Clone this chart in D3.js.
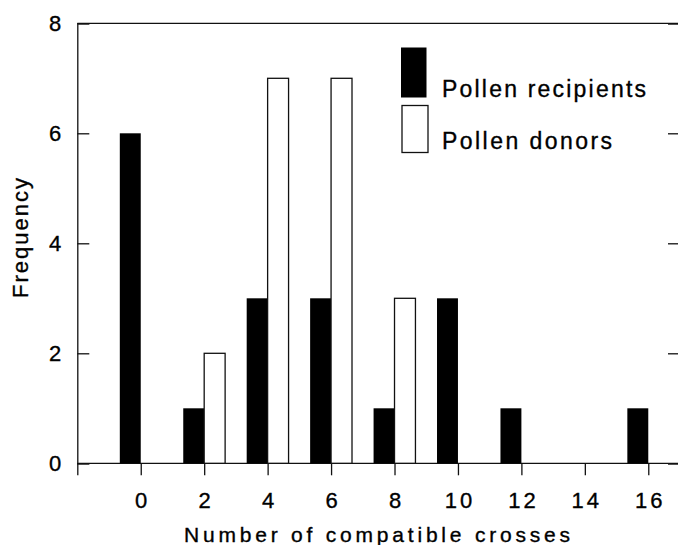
<!DOCTYPE html>
<html>
<head>
<meta charset="utf-8">
<script src="https://cdn.jsdelivr.net/npm/d3@7"></script>
<style>
  html, body { margin: 0; padding: 0; background: #fff; }
  svg { display: block; }
  text { font-family: "Liberation Sans", Arial, sans-serif; fill: #000; stroke: #000; stroke-width: 0.35; }
  .domain, .tick line { stroke: #111; stroke-width: 1.3; }
</style>
</head>
<body>
<div id="chart"></div>
<script>
// number of compatible crosses (bin centres)
var crosses = [0, 2, 4, 6, 8, 10, 12, 14, 16];
var recipients = [6, 1, 3, 3, 1, 3, 1, 0, 1];
var donors = [0, 2, 7, 7, 3, 0, 0, 0, 0];
var xTicks = [0, 2, 4, 6, 8, 10, 12, 14, 16];
var yTicks = [0, 2, 4, 6, 8];
var seriesNames = ["Pollen recipients", "Pollen donors"];

var W = 678, H = 545;
var margin = {top: 23.3, right: -2, bottom: 81.7, left: 77.3};

var svg = d3.select("#chart").append("svg")
    .attr("width", W)
    .attr("height", H);

var x = d3.scaleLinear().domain([-2, 17]).range([margin.left, W - margin.right]);
var y = d3.scaleLinear().domain([0, 8]).range([H - margin.bottom, margin.top]);
var barW = x(0.66) - x(0);

// frame: top line
svg.append("line")
    .attr("x1", x(-2)).attr("x2", x(17))
    .attr("y1", y(8)).attr("y2", y(8))
    .attr("stroke", "#111").attr("stroke-width", 1.3);

// left axis, ticks pointing inward
var yAxis = svg.append("g")
    .attr("transform", "translate(" + x(-2) + ",0)")
    .call(d3.axisLeft(y).tickValues(yTicks).tickSize(-12).tickPadding(16).tickFormat(d3.format("d")));
yAxis.selectAll(".tick text")
    .attr("font-size", 22)
    .attr("font-family", "Liberation Sans, Arial, sans-serif");

// right axis (frame edge), ticks pointing inward
svg.append("g")
    .attr("transform", "translate(" + x(17) + ",0)")
    .call(d3.axisRight(y).tickValues(yTicks).tickSize(-12).tickFormat(""));

// bottom axis; the frame corner gets an unlabelled tick too
var xAxis = svg.append("g")
    .attr("transform", "translate(0," + y(0) + ")")
    .call(d3.axisBottom(x).tickValues([-2].concat(xTicks)).tickSize(12).tickSizeOuter(0)
        .tickFormat(function (d) { return d < 0 ? "" : d3.format("d")(d); }));
xAxis.select(".domain").attr("d", "M" + x(-2) + ",0H" + x(17));
xAxis.selectAll(".tick text")
    .attr("font-size", 22)
    .attr("font-family", "Liberation Sans, Arial, sans-serif")
    .attr("letter-spacing", 3)
    .attr("dx", 1.5)
    .attr("dy", null)
    .attr("y", 45);

// bars
var rows = crosses.map(function (c, i) {
    return {c: c, rec: recipients[i], don: donors[i]};
});

svg.append("g").selectAll("rect.rec")
    .data(rows.filter(function (d) { return d.rec > 0; }))
    .enter().append("rect")
    .attr("class", "rec")
    .attr("x", function (d) { return x(d.c) - barW; })
    .attr("y", function (d) { return y(d.rec); })
    .attr("width", barW)
    .attr("height", function (d) { return y(0) - y(d.rec); })
    .attr("fill", "#000");

svg.append("g").selectAll("rect.don")
    .data(rows.filter(function (d) { return d.don > 0; }))
    .enter().append("rect")
    .attr("class", "don")
    .attr("x", function (d) { return x(d.c); })
    .attr("y", function (d) { return y(d.don); })
    .attr("width", barW)
    .attr("height", function (d) { return y(0) - y(d.don); })
    .attr("fill", "#fff")
    .attr("stroke", "#111")
    .attr("stroke-width", 1.3);

// legend
var legend = svg.append("g");
legend.append("rect")
    .attr("x", 401).attr("y", 47.5).attr("width", 25.5).attr("height", 50)
    .attr("fill", "#000");
legend.append("rect")
    .attr("x", 402).attr("y", 105.5).attr("width", 26).attr("height", 47)
    .attr("fill", "#fff").attr("stroke", "#111").attr("stroke-width", 1.3);
legend.append("text")
    .attr("x", 442).attr("y", 96.5)
    .attr("font-size", 23)
    .attr("textLength", 204).attr("lengthAdjust", "spacing")
    .text(seriesNames[0]);
legend.append("text")
    .attr("x", 442).attr("y", 148.5)
    .attr("font-size", 23)
    .attr("textLength", 170).attr("lengthAdjust", "spacing")
    .text(seriesNames[1]);

// axis titles
svg.append("text")
    .attr("x", 184).attr("y", 542)
    .attr("font-size", 21)
    .attr("textLength", 386).attr("lengthAdjust", "spacing")
    .text("Number of compatible crosses");

svg.append("text")
    .attr("transform", "translate(28,298) rotate(-90)")
    .attr("font-size", 22)
    .attr("textLength", 120).attr("lengthAdjust", "spacing")
    .text("Frequency");
</script>
</body>
</html>
